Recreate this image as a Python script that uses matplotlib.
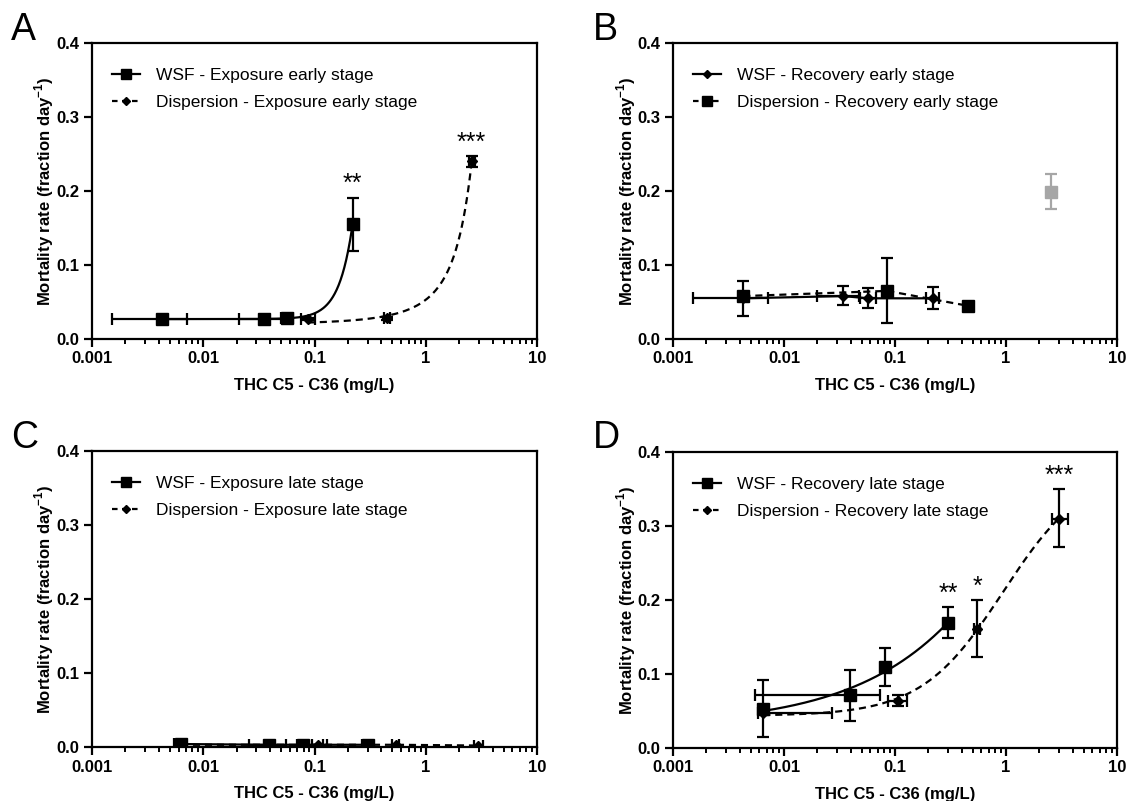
import numpy as np
import matplotlib
matplotlib.use("Agg")
import matplotlib.pyplot as plt
from matplotlib.ticker import FixedLocator, NullFormatter

plt.rcParams['font.family'] = ['Liberation Sans', 'DejaVu Sans']
plt.rcParams['mathtext.fontset'] = 'custom'
plt.rcParams['mathtext.rm'] = 'Liberation Sans'
plt.rcParams['mathtext.bf'] = 'Liberation Sans:bold'

# ---------------- data ----------------
# Panel A: exposure early stage
a_wsf_x = [0.0043, 0.035, 0.057, 0.22]
a_wsf_y = [0.027, 0.027, 0.028, 0.155]
a_wsf_xlo = [0.0015, 0.021, 0.050, 0.21]
a_wsf_xhi = [0.0072, 0.052, 0.064, 0.23]
a_wsf_ylo = [0.025, 0.025, 0.026, 0.119]
a_wsf_yhi = [0.029, 0.029, 0.030, 0.191]

a_dis_x = [0.087, 0.45, 2.59]
a_dis_y = [0.027, 0.028, 0.240]
a_dis_xlo = [0.075, 0.42, 2.45]
a_dis_xhi = [0.100, 0.48, 2.75]
a_dis_ylo = [0.025, 0.026, 0.233]
a_dis_yhi = [0.029, 0.030, 0.247]

# Panel B: recovery early stage
b_wsf_x = [0.0043, 0.034, 0.057, 0.22]
b_wsf_y = [0.055, 0.058, 0.055, 0.055]
b_wsf_xlo = [0.0015, 0.020, 0.048, 0.19]
b_wsf_xhi = [0.0072, 0.047, 0.068, 0.25]
b_wsf_ylo = [0.031, 0.046, 0.042, 0.040]
b_wsf_yhi = [0.078, 0.072, 0.069, 0.070]

b_dis_x = [0.0043, 0.085, 0.45]
b_dis_y = [0.058, 0.065, 0.045]
b_dis_ylo = [0.058, 0.021, 0.045]
b_dis_yhi = [0.058, 0.110, 0.045]

b_excl_x = [2.55]
b_excl_y = [0.199]
b_excl_ylo = [0.176]
b_excl_yhi = [0.223]

# Panel C: exposure late stage
c_wsf_x = [0.0063, 0.039, 0.079, 0.30]
c_wsf_y = [0.004, 0.003, 0.003, 0.003]
c_wsf_xlo = [0.0055, 0.026, 0.070, 0.27]
c_wsf_xhi = [0.0070, 0.055, 0.130, 0.33]

c_dis_x = [0.0063, 0.107, 0.54, 2.95]
c_dis_y = [0.003, 0.003, 0.003, 0.002]
c_dis_xlo = [0.0058, 0.095, 0.50, 2.70]
c_dis_xhi = [0.0068, 0.120, 0.58, 3.30]

# Panel D: recovery late stage
d_wsf_x = [0.0065, 0.039, 0.081, 0.30]
d_wsf_y = [0.053, 0.072, 0.109, 0.169]
d_wsf_xlo = [0.0060, 0.0055, 0.075, 0.28]
d_wsf_xhi = [0.0070, 0.073, 0.088, 0.32]
d_wsf_ylo = [0.015, 0.037, 0.084, 0.148]
d_wsf_yhi = [0.092, 0.105, 0.135, 0.190]

d_dis_x = [0.0065, 0.107, 0.55, 3.0]
d_dis_y = [0.047, 0.064, 0.161, 0.310]
d_dis_xlo = [0.0058, 0.087, 0.52, 2.6]
d_dis_xhi = [0.027, 0.128, 0.58, 3.6]
d_dis_ylo = [0.047, 0.057, 0.123, 0.272]
d_dis_yhi = [0.047, 0.071, 0.200, 0.350]

xticks = [0.001, 0.01, 0.1, 1, 10]
xticklabels = ["0.001", "0.01", "0.1", "1", "10"]
yticks = [0.0, 0.1, 0.2, 0.3, 0.4]
yticklabels = ["0.0", "0.1", "0.2", "0.3", "0.4"]

# ---------------- helpers ----------------
def power_fit(x, y):
    """Least-squares fit of y = y0 + A * x**B."""
    x = np.asarray(x, float); y = np.asarray(y, float)
    best = None
    for B in np.linspace(0.3, 6, 600):
        M = np.column_stack([np.ones_like(x), x ** B])
        coef, *_ = np.linalg.lstsq(M, y, rcond=None)
        r = np.sum((M @ coef - y) ** 2)
        if best is None or r < best[0]:
            best = (r, coef, B)
    _, coef, B = best
    return lambda xx: coef[0] + coef[1] * xx ** B

def exp_growth_fit(x, y):
    """Least-squares fit of y = Y0 * exp(k x)."""
    x = np.asarray(x, float); y = np.asarray(y, float)
    best = None
    for k in np.linspace(0.01, 30, 3000):
        e = np.exp(k * x)
        y0 = np.dot(e, y) / np.dot(e, e)
        r = np.sum((y0 * e - y) ** 2)
        if best is None or r < best[0]:
            best = (r, y0, k)
    _, y0, k = best
    return lambda xx: y0 * np.exp(k * xx)

def logistic_fit(x, y):
    """Least-squares 4-parameter logistic in log10(x)."""
    u = np.log10(np.asarray(x, float)); y = np.asarray(y, float)
    best = None
    for c in np.linspace(-2.5, 1.5, 161):
        for h in np.linspace(0.3, 3.0, 109):
            s = 1.0 / (1.0 + 10 ** ((c - u) * h))
            M = np.column_stack([np.ones_like(u), s])
            coef, *_ = np.linalg.lstsq(M, y, rcond=None)
            r = np.sum((M @ coef - y) ** 2) + 1e-4 * h ** 2
            if best is None or r < best[0]:
                best = (r, coef, c, h)
    _, coef, c, h = best
    return lambda xx: coef[0] + coef[1] / (1.0 + 10 ** ((c - np.log10(xx)) * h))

def asym(v, lo, hi):
    v = np.asarray(v); return [v - np.asarray(lo), np.asarray(hi) - v]

LW = 1.6
def draw_series(ax, x, y, marker, ms, xlo=None, xhi=None, ylo=None, yhi=None, color='black'):
    xerr = asym(x, xlo, xhi) if xlo is not None else None
    yerr = asym(y, ylo, yhi) if ylo is not None else None
    ax.errorbar(x, y, xerr=xerr, yerr=yerr, fmt=marker, ms=ms, color=color,
                mfc=color, mec=color, elinewidth=LW, capsize=4.5, capthick=LW,
                linestyle='none', zorder=3)

def style_axes(ax):
    ax.set_xscale('log')
    ax.set_xlim(0.001, 10)
    ax.set_ylim(0, 0.4)
    ax.xaxis.set_major_locator(FixedLocator(xticks))
    ax.set_xticklabels(xticklabels)
    ax.xaxis.set_minor_locator(FixedLocator(
        [m * 10.0 ** e for e in range(-3, 1) for m in range(2, 10)]))
    ax.xaxis.set_minor_formatter(NullFormatter())
    ax.set_yticks(yticks)
    ax.set_yticklabels(yticklabels)
    for s in ax.spines.values():
        s.set_linewidth(1.6)
    ax.tick_params(axis='both', which='major', direction='out', length=6, width=1.6,
                   labelsize=12, pad=3)
    ax.tick_params(axis='x', which='minor', direction='out', length=3.5, width=1.4)
    for lab in ax.get_xticklabels() + ax.get_yticklabels():
        lab.set_fontweight('bold')
    ax.set_xlabel("THC C5 - C36 (mg/L)", fontsize=12, fontweight='bold', labelpad=8)
    ax.set_ylabel("Mortality rate (fraction day$^{\\mathbf{-1}}$)", fontsize=12,
                  fontweight='bold', labelpad=0)

def legend(ax, labels, markers, mss):
    from matplotlib.lines import Line2D
    h = [Line2D([], [], color='black', lw=LW, ls='-', marker=markers[0], ms=mss[0]),
         Line2D([], [], color='black', lw=LW, ls=(0, (2.5, 2)), marker=markers[1], ms=mss[1])]
    ax.legend(h, labels, loc='upper left', frameon=False, fontsize=12.5,
              handlelength=1.6, handletextpad=0.9, labelspacing=0.7,
              bbox_to_anchor=(0.03, 0.94), borderaxespad=0)

DASH = (0, (3.2, 2.2))
SQ_MS = 8
DI_MS = 5.5
STAR_FS = 18

W, H = 1129, 801
fig = plt.figure(figsize=(W / 100, H / 100), dpi=100)
def add_ax(l, r, t, b):
    return fig.add_axes([l / W, 1 - b / H, (r - l) / W, (b - t) / H])

axA = add_ax(92, 537, 43, 339)
axB = add_ax(673, 1117, 43, 339)
axC = add_ax(92, 537, 451, 747)
axD = add_ax(673, 1117, 452, 748)

def curve(ax, x, f, ls):
    xx = np.logspace(np.log10(min(x)), np.log10(max(x)), 300)
    ax.plot(xx, f(xx), color='black', lw=LW, ls=ls, zorder=2)

# ---- Panel A ----
ax = axA
style_axes(ax)
curve(ax, a_wsf_x, power_fit(a_wsf_x, a_wsf_y), '-')
curve(ax, a_dis_x, exp_growth_fit(a_dis_x, a_dis_y), DASH)
draw_series(ax, a_wsf_x, a_wsf_y, 's', SQ_MS, a_wsf_xlo, a_wsf_xhi, a_wsf_ylo, a_wsf_yhi)
draw_series(ax, a_dis_x, a_dis_y, 'D', DI_MS, a_dis_xlo, a_dis_xhi, a_dis_ylo, a_dis_yhi)
ax.text(a_wsf_x[3], a_wsf_yhi[3] + 0.002, "**", ha='center', va='bottom', fontsize=STAR_FS)
ax.text(a_dis_x[2], a_dis_yhi[2] + 0.002, "***", ha='center', va='bottom', fontsize=STAR_FS)
legend(ax, ["WSF - Exposure early stage", "Dispersion - Exposure early stage"], ['s', 'D'], [SQ_MS - 1, DI_MS - 1])

# ---- Panel B ----
ax = axB
style_axes(ax)
ax.plot(b_wsf_x, b_wsf_y, color='black', lw=LW, zorder=2)
ax.plot(b_dis_x, b_dis_y, color='black', lw=LW, ls=DASH, zorder=2)
draw_series(ax, b_wsf_x, b_wsf_y, 'D', DI_MS, b_wsf_xlo, b_wsf_xhi, b_wsf_ylo, b_wsf_yhi)
draw_series(ax, b_dis_x, b_dis_y, 's', SQ_MS, None, None, b_dis_ylo, b_dis_yhi)
draw_series(ax, b_excl_x, b_excl_y, 's', SQ_MS, None, None, b_excl_ylo, b_excl_yhi, color='#a6a6a6')
legend(ax, ["WSF - Recovery early stage", "Dispersion - Recovery early stage"], ['D', 's'], [DI_MS - 1, SQ_MS - 1])

# ---- Panel C ----
ax = axC
style_axes(ax)
ax.plot(c_wsf_x, c_wsf_y, color='black', lw=LW, zorder=2)
ax.plot(c_dis_x, c_dis_y, color='black', lw=LW, ls=DASH, zorder=2)
draw_series(ax, c_wsf_x, c_wsf_y, 's', SQ_MS, c_wsf_xlo, c_wsf_xhi)
draw_series(ax, c_dis_x, c_dis_y, 'D', DI_MS, c_dis_xlo, c_dis_xhi)
legend(ax, ["WSF - Exposure late stage", "Dispersion - Exposure late stage"], ['s', 'D'], [SQ_MS - 1, DI_MS - 1])

# ---- Panel D ----
ax = axD
style_axes(ax)
curve(ax, d_wsf_x, logistic_fit(d_wsf_x, d_wsf_y), '-')
curve(ax, d_dis_x, logistic_fit(d_dis_x, d_dis_y), DASH)
draw_series(ax, d_wsf_x, d_wsf_y, 's', SQ_MS, d_wsf_xlo, d_wsf_xhi, d_wsf_ylo, d_wsf_yhi)
draw_series(ax, d_dis_x, d_dis_y, 'D', DI_MS, d_dis_xlo, d_dis_xhi, d_dis_ylo, d_dis_yhi)
ax.text(d_wsf_x[3], d_wsf_yhi[3] + 0.002, "**", ha='center', va='bottom', fontsize=STAR_FS)
ax.text(d_dis_x[2], d_dis_yhi[2] + 0.002, "*", ha='center', va='bottom', fontsize=STAR_FS)
ax.text(d_dis_x[3], d_dis_yhi[3] + 0.002, "***", ha='center', va='bottom', fontsize=STAR_FS)
legend(ax, ["WSF - Recovery late stage", "Dispersion - Recovery late stage"], ['s', 'D'], [SQ_MS - 1, DI_MS - 1])

# panel letters
for lab, (px, py) in zip("ABCD", [(11, 12), (593, 12), (11, 420), (593, 420)]):
    fig.text(px / W, 1 - py / H, lab, fontsize=27, va='top', ha='left')

fig.savefig("out.png", dpi=100)
